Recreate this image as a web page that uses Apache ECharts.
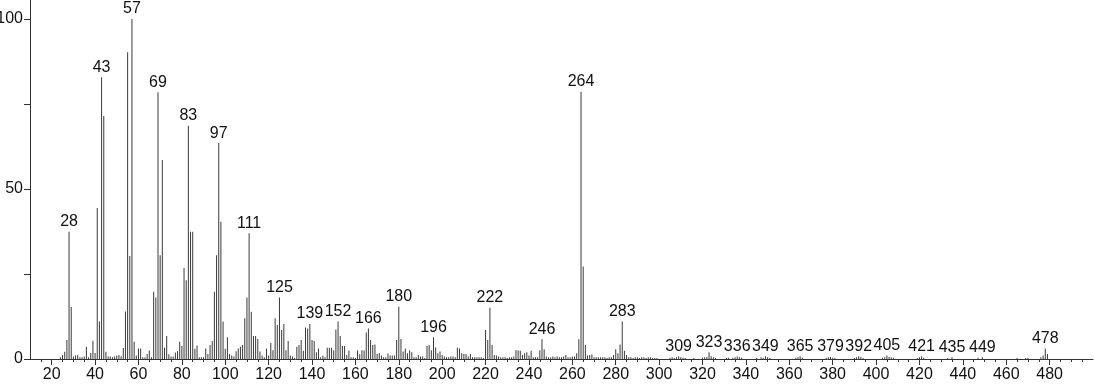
<!DOCTYPE html>
<html><head><meta charset="utf-8">
<script src="https://cdn.jsdelivr.net/npm/echarts@6/dist/echarts.min.js"></script>
<style>html,body{margin:0;padding:0;background:#fff}#c{width:1094px;height:384px}</style>
</head><body><div id="c"></div>
<script>
// m/z, relative intensity (%)
const peaksLow = [
[24,0.5],[25,1.2],[26,2.1],[27,5.6],[28,37.4],[29,15.3],[30,0.7],[31,1.0],[32,1.2],[33,0.5],[34,0.5],[35,0.7],
[36,3.6],[37,0.5],[38,1.8],[39,5.4],[40,1.8],[41,44.4],[42,11],[43,82.9],[44,71.5],[45,2.1],[46,0.7],[47,0.7],
[48,0.5],[49,0.7],[50,1.0],[51,1.2],[52,0.8],[53,3.2],[54,14],[55,90.2],[56,30.3],[57,100],[58,5.1],[59,1.0],
[60,3.1],[61,3.1],[62,0.5],[63,0.5],[64,1.5],[65,2.5],[66,0.5],[67,19.8],[68,18.1],[69,78.5],[70,30.5],[71,58.5],
[72,3.3],[73,6.8],[74,1.4],[75,0.7],[76,0.7],[77,1.9],[78,2.3],[79,5.1],[80,3.8],[81,26.8],[82,23.2],[83,68.6],
[84,37.4],[85,37.4],[86,3.0],[87,4.0],[88,0.5],[89,0.5],[90,0.5],[91,3.1],[92,1.5],[93,4.1],[94,5.3],[95,19.8],
[96,30.5],[97,63.5],[98,40.4],[99,11]
];
const peaksMid = [
[100,3.0],[101,6.4],[102,1.5],[103,1.0],[104,0.7],[105,2.3],[106,3.1],[107,3.6],[108,4.1],[109,12],[110,18.1],
[111,37],[112,13.9],[113,6.8],[114,6.8],[115,5.9],[116,2.2],[117,1],[118,0.5],[119,3.1],[120,1],[121,4.7],
[122,2.6],[123,12],[124,10],[125,18.1],[126,8.5],[127,10.3],[128,2.6],[129,5.3],[130,1],[131,0.7],[132,0.3],
[133,3.6],[134,4.1],[135,5.6],[136,2.4],[137,9.3],[138,9],[139,10.3],[140,5.6],[141,5.3],[142,2],[143,3.1],
[144,0.5],[145,1],[146,0.5],[147,3.3],[148,3.3],[149,3.3],[150,2.6],[151,8.7],[152,11],[153,6.8],[154,3.8],
[155,3.8],[156,1.2],[157,2.5],[158,0.5],[159,0.5],[160,0.3],[161,2.6],[162,1.4],[163,2.6],[164,2.5],[165,7.8],
[166,9],[167,5.6],[168,4.1],[169,4.3],[170,1.5],[171,1.8],[172,1],[173,0.5],[174,0.5],[175,1.6],[176,1],
[177,1],[178,1],[179,5.6],[180,15.4],[181,5.9],[182,2.2],[183,3.1],[184,1.7],[185,2.6],[186,2],[187,0.5],
[188,0.5],[189,1.2],[190,0.7],[191,0.7],[192,0.3],[193,3.8],[194,4.1],[195,2.6],[196,6.4],[197,3.4],[198,1.7],
[199,2.2]
];
const peaksHigh = [
[200,1.2],[201,0.7],[202,0.5],[203,0.5],[204,0.7],[205,0.7],[206,0.5],[207,3.4],[208,3.1],[209,1.7],[210,1.5],
[211,1.5],[212,0.7],[213,1.5],[214,0.5],[215,0.5],[216,0.5],[217,0.5],[218,0.5],[219,0.3],[220,8.5],[221,5.6],
[222,15.1],[223,4.1],[224,1.2],[225,1],[226,0.7],[227,0.5],[228,0.5],[229,0.5],[230,0.3],[231,0.5],[232,0.5],
[233,0.7],[234,2.6],[235,2.6],[236,2.4],[237,1.2],[238,1.7],[239,2],[240,1],[241,2.4],[242,0.5],[243,0.5],
[244,0.5],[245,2.6],[246,5.8],[247,2.9],[248,0.7],[249,0.5],[250,0.5],[251,0.7],[252,0.5],[253,0.7],[254,0.5],
[255,0.5],[256,0.7],[257,1.2],[258,0.5],[259,0.5],[260,0.7],[261,0.7],[262,1.7],[263,5.8],[264,78.6],[265,27.2],
[266,4.1],[267,1],[268,1.2],[269,1.3],[270,0.5],[271,0.5],[272,0.5],[273,0.5],[274,0.5],[275,0.5],[276,0.3],
[277,0.5],[278,0.5],[279,1.2],[280,2.9],[281,1.7],[282,4.3],[283,11],[284,2.4],[285,1.2],[286,0.5],[287,0.5],
[288,0.3],[289,0.5],[290,0.5],[291,0.3],[292,0.5],[293,0.5],[294,0.3],[295,0.5],[296,0.5],[297,0.3],[298,0.3],
[299,0.3]
];
const peaksTail = [
[305,0.4],[306,0.5],[307,0.3],[308,0.5],[309,0.8],[310,0.5],[311,0.4],[312,0.3],[316,0.3],[320,0.4],[321,0.5],
[322,0.6],[323,2.0],[324,0.8],[325,0.5],[326,0.3],[331,0.3],[332,0.4],[334,0.4],[335,0.5],[336,0.7],[337,0.5],
[338,0.4],[345,0.3],[347,0.5],[348,0.4],[349,0.8],[350,0.5],[351,0.3],[363,0.4],[364,0.5],[365,0.8],[366,0.4],
[377,0.4],[378,0.5],[379,0.6],[380,0.4],[381,0.3],[390,0.3],[391,0.5],[392,0.8],[393,0.6],[394,0.3],[403,0.4],
[404,0.5],[405,1.0],[406,0.6],[407,0.5],[408,0.4],[419,0.3],[420,0.5],[421,0.8],[422,0.4],[433,0.3],[435,0.5],
[447,0.4],[449,0.5],[465,0.3],[469,0.3],[470,0.3],[476,0.5],[477,1.0],[478,3.1],[479,1.5]
];
const labeledPeaks = [28,43,57,69,83,97,111,125,139,152,166,180,196,222,246,264,283,309,323,336,349,365,379,392,405,421,435,449,478];
const xTickLabels = [20,40,60,80,100,120,140,160,180,200,220,240,260,280,300,320,340,360,380,400,420,440,460,480];
const yTickLabels = [0,50,100];
const yTicks = [0,25,50,75,100];

const xMinorTicks = [];
for (let v = 15; v <= 495; v += 5) if (v % 20 !== 0) xMinorTicks.push(v);

const allPeaks = [].concat(peaksLow, peaksMid, peaksHigh, peaksTail);
const seriesData = allPeaks.map(([m, v]) =>
  labeledPeaks.includes(m) ? { value: [m, v], label: { show: true } } : { value: [m, v] });

const FONT = '"Liberation Sans Narrow", "Arial Narrow", "Liberation Sans", sans-serif';
const chart = echarts.init(document.getElementById('c'), null, { renderer: 'canvas' });
chart.setOption({
  animation: false,
  backgroundColor: '#fff',
  grid: { left: 30, right: 1, top: 0, bottom: 25, containLabel: false, outerBoundsMode: 'none' },
  xAxis: [
    {
      type: 'value', min: 10, max: 500, gridIndex: 0, position: 'bottom',
      axisLine: { show: true, onZero: false, lineStyle: { color: '#333', width: 1 } },
      axisTick: { show: true, customValues: xTickLabels, length: 6, lineStyle: { color: '#333' } },
      axisLabel: { show: true, customValues: xTickLabels, fontSize: 16, color: '#111', fontFamily: FONT, margin: 8 },
      splitLine: { show: false }
    },
    {
      type: 'value', min: 10, max: 500, gridIndex: 0, position: 'bottom', offset: 0,
      axisLine: { show: false, onZero: false },
      axisTick: { show: true, customValues: xMinorTicks, length: 3, lineStyle: { color: '#333' } },
      axisLabel: { show: false },
      splitLine: { show: false }
    }
  ],
  yAxis: {
    type: 'value', min: 0, max: 105.6, interval: 25,
    axisLine: { show: true, onZero: false, lineStyle: { color: '#333', width: 1 } },
    axisTick: { show: true, customValues: yTicks, length: 6, lineStyle: { color: '#333' } },
    axisLabel: { show: true, customValues: yTickLabels, fontSize: 16, color: '#111', fontFamily: FONT, margin: 7 },
    splitLine: { show: false }
  },
  series: [{
    type: 'bar',
    xAxisIndex: 0,
    data: seriesData,
    barWidth: 1,
    itemStyle: { color: '#3a3a3a' },
    label: {
      show: false, position: 'top', distance: 2, fontSize: 16, color: '#111', fontFamily: FONT,
      formatter: p => String(p.value[0])
    }
  }]
});
</script></body></html>
